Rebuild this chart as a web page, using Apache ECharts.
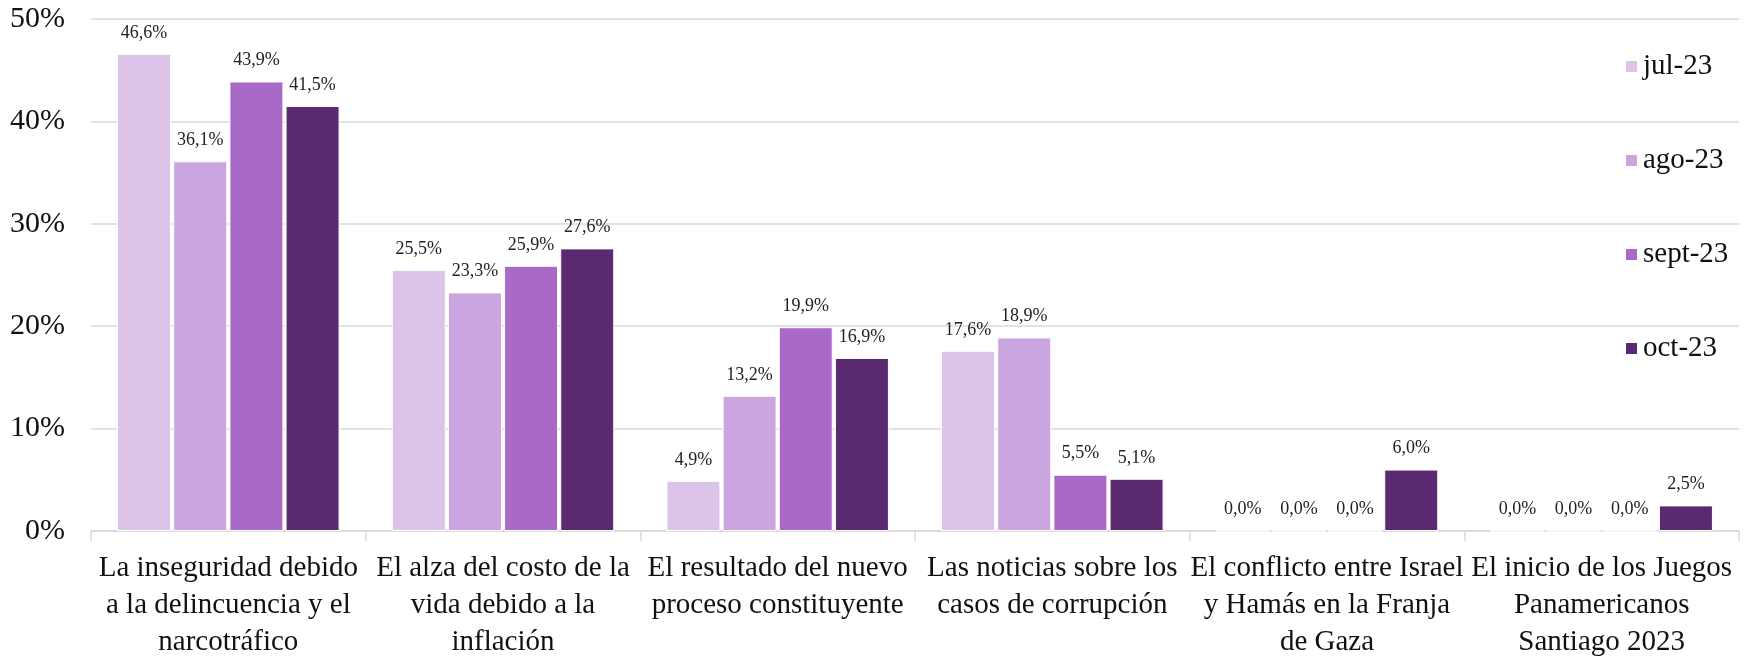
<!DOCTYPE html>
<html>
<head>
<meta charset="utf-8">
<script src="https://cdn.jsdelivr.net/npm/echarts@6/dist/echarts.min.js"></script>
<style>
  html, body { margin: 0; padding: 0; background: #fff; }
  #chart { width: 1750px; height: 656px; }
</style>
</head>
<body>
<div id="chart"></div>
<script>
  var categories = [
    'La inseguridad debido\na la delincuencia y el\nnarcotráfico',
    'El alza del costo de la\nvida debido a la\ninflación',
    'El resultado del nuevo\nproceso constituyente',
    'Las noticias sobre los\ncasos de corrupción',
    'El conflicto entre Israel\ny Hamás en la Franja\nde Gaza',
    'El inicio de los Juegos\nPanamericanos\nSantiago 2023'
  ];
  var seriesNames = ['jul-23', 'ago-23', 'sept-23', 'oct-23'];
  var jul23 = [46.6, 25.5, 4.9, 17.6, 0.0, 0.0];
  var ago23 = [36.1, 23.3, 13.2, 18.9, 0.0, 0.0];
  var sept23 = [43.9, 25.9, 19.9, 5.5, 0.0, 0.0];
  var oct23 = [41.5, 27.6, 16.9, 5.1, 6.0, 2.5];
  var colors = ['#dcc3e8', '#cba5df', '#a86ac6', '#5a296f'];

  var serif = '"Liberation Serif", serif';

  function pct(v) {
    return v.toFixed(1).replace('.', ',') + '%';
  }

  var chart = echarts.init(document.getElementById('chart'));

  var series = [jul23, ago23, sept23, oct23].map(function(data, i) {
    return {
      name: seriesNames[i],
      type: 'bar',
      data: data,
      barWidth: 54,
      barGap: '4%',
      itemStyle: { color: colors[i], borderColor: '#fff', borderWidth: 1 },
      label: {
        show: true,
        position: 'top',
        distance: 12,
        color: '#222',
        fontFamily: serif,
        fontSize: 18,
        formatter: function(p) { return pct(p.value); }
      }
    };
  });

  chart.setOption({
    animation: false,
    color: colors,
    textStyle: { fontFamily: serif },
    grid: { left: 91, right: 11, top: 19, bottom: 125, outerBoundsMode: 'none' },
    legend: {
      orient: 'vertical',
      left: 1619,
      top: 47,
      itemGap: 65,
      itemWidth: 13,
      itemHeight: 13,
      icon: 'rect',
      textStyle: { fontFamily: serif, fontSize: 29, color: '#111' },
      data: seriesNames
    },
    xAxis: {
      type: 'category',
      data: categories,
      axisLine: { lineStyle: { color: '#d9d9d9', width: 1.5 } },
      axisTick: { show: true, length: 10, lineStyle: { color: '#d9d9d9', width: 1.5 } },
      axisLabel: {
        interval: 0,
        margin: 19,
        fontFamily: serif,
        fontSize: 29,
        lineHeight: 37,
        color: '#111'
      }
    },
    yAxis: {
      type: 'value',
      min: 0,
      max: 50,
      interval: 10,
      axisLine: { show: false },
      axisTick: { show: false },
      splitLine: { lineStyle: { color: '#d9d9d9', width: 1.5 } },
      axisLabel: {
        formatter: '{value}%',
        fontFamily: serif,
        fontSize: 30,
        color: '#111',
        margin: 26
      }
    },
    series: series
  });
</script>
</body>
</html>
